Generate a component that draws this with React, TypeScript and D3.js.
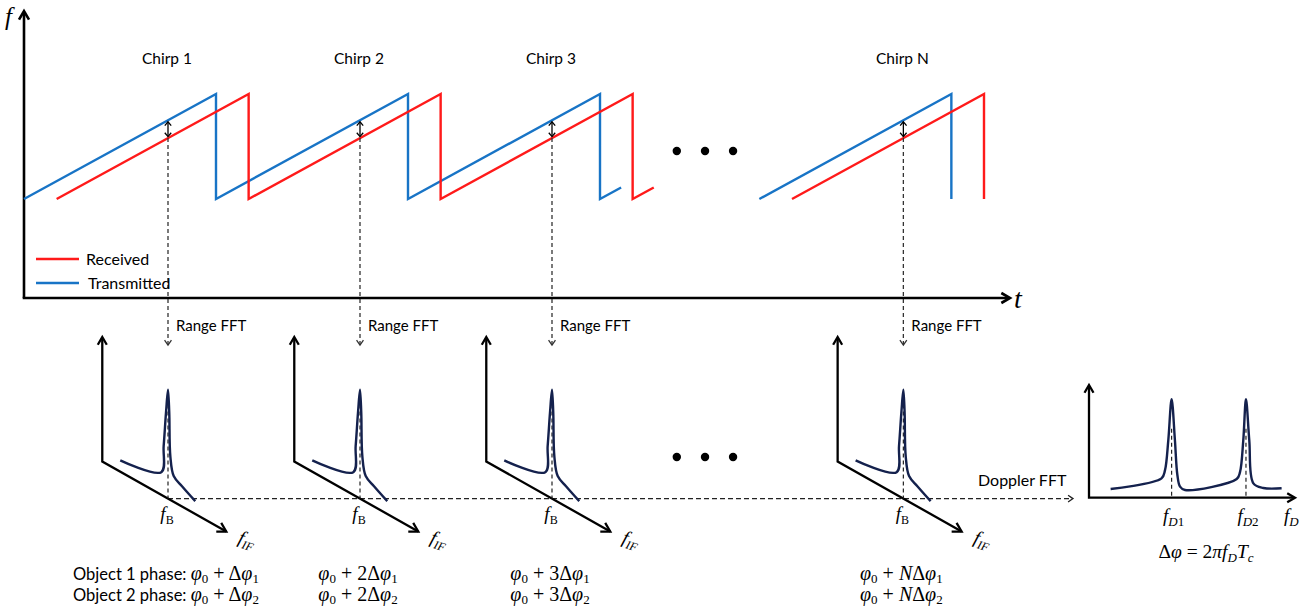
import React from "react";
import * as d3 from "d3";

// ---------- data ----------
const chirpLabels = ["Chirp 1", "Chirp 2", "Chirp 3", "Chirp N"];
const chirpStarts = [0, 1, 2, 3.83]; // in chirp durations
const phaseMultipliers = ["", "2", "3", "N"];
const echoDelay = 0.17; // received lag (chirp durations)
const beatSampleOffset = 0.75; // where beat frequency is measured within chirp
// sawtooth runs: start time, number of full chirps, trailing partial ramp
const sweepRunStarts = [0, 3.83];
const sweepRunCounts = [3, 1];
const sweepRunTails = [0.11, 0];
const ellipsisT = [3.4, 3.547, 3.693];
const ellipsisF = 0.457;

// range FFT spectrum (IF frequency along axis 0..1, magnitude 0..1)
const rangeIF = [0.145, 0.476, 0.495, 0.514, 0.53, 0.54, 0.549, 0.576, 0.643, 0.75];
const rangeMag = [0.103, 0.208, 0.459, 0.78, 1.0, 0.8, 0.4, 0.236, 0.186, 0.118];
const beatFreq = 0.53;

// doppler FFT spectrum
const dopplerFreq = [1.05, 3.52, 3.69, 3.85, 4.01, 4.17, 4.29, 4.42, 4.66, 7.17, 7.33, 7.49, 7.62, 7.78, 7.98, 8.46, 9.35];
const dopplerMag = [0.088, 0.197, 0.28, 0.586, 1.0, 0.586, 0.231, 0.112, 0.078, 0.19, 0.26, 0.586, 1.0, 0.586, 0.146, 0.099, 0.096];
const dopplerPeaks = [4.01, 7.62];
const dopplerPeakLabels = ["D1", "D2"];

// ---------- styling ----------
const SANS = "Lato, 'Open Sans', sans-serif";
const SERIF = "'Liberation Serif', 'DejaVu Serif', serif";
const RED = "#ff1a1a";
const BLUE = "#1874c6";
const NAVY = "#14214d";

function chevron(tipX: number, tipY: number, angleDeg: number, len = 9, spread = 28) {
  const a = (angleDeg * Math.PI) / 180;
  const s = (spread * Math.PI) / 180;
  const p1 = [tipX - len * Math.cos(a - s), tipY - len * Math.sin(a - s)];
  const p2 = [tipX - len * Math.cos(a + s), tipY - len * Math.sin(a + s)];
  return `M${p1[0]},${p1[1]}L${tipX},${tipY}L${p2[0]},${p2[1]}`;
}

export default function App() {
  const tScale = d3.scaleLinear().domain([0, 1]).range([24, 216]);
  const fScale = d3.scaleLinear().domain([0, 1]).range([199, 94]);
  const line = d3.line<[number, number]>().x((d) => tScale(d[0])).y((d) => fScale(d[1]));

  const buildRuns = (shift: number) =>
    sweepRunStarts.map((s0, i) => {
      const pts: [number, number][] = [];
      const s = s0 + shift;
      for (let k = 0; k < sweepRunCounts[i]; k++) {
        pts.push([s + k, 0], [s + k + 1, 1], [s + k + 1, 0]);
      }
      if (sweepRunTails[i] > 0) pts.push([s + sweepRunCounts[i] + sweepRunTails[i], sweepRunTails[i]]);
      return pts;
    });
  const txRuns = buildRuns(0);
  const rxRuns = buildRuns(echoDelay);

  const axisY = 298;
  const axisX = 24;

  const arrowXs = chirpStarts.map((s) => tScale(s + beatSampleOffset));
  const yTx = fScale(beatSampleOffset);
  const yRx = fScale(beatSampleOffset - echoDelay);

  // bottom panel geometry
  const panelOriginY = 461.5;
  const diagDX = 124;
  const diagDY = 70;
  const magPx = 109;
  const fBy = panelOriginY + beatFreq * diagDY;

  const panelLine = (ax: number) =>
    d3
      .line<number>()
      .x((_, i) => ax + rangeIF[i] * diagDX)
      .y((_, i) => panelOriginY + rangeIF[i] * diagDY - rangeMag[i] * magPx)
      .curve(d3.curveCatmullRom.alpha(0.5));

  // doppler
  const dX = d3.scaleLinear().domain([0, 10]).range([1089, 1295]);
  const dY = d3.scaleLinear().domain([0, 1]).range([497.7, 399.3]);
  const dLine = d3
    .line<number>()
    .x((_, i) => dX(dopplerFreq[i]))
    .y((_, i) => dY(dopplerMag[i]))
    .curve(d3.curveCatmullRom.alpha(0.5));

  const MATH = 20;
  const SUB = 13;

  const phaseExpr = (m: string, obj: string) => (
    <>
      <tspan fontFamily={SERIF} fontSize={MATH} fontStyle="italic">φ</tspan>
      <tspan fontFamily={SERIF} dy={3} fontSize={SUB}>0</tspan>
      <tspan fontFamily={SERIF} fontSize={MATH} dy={-3}>{" + "}</tspan>
      <tspan fontFamily={SERIF} fontSize={MATH} fontStyle={m === "N" ? "italic" : "normal"}>{m}</tspan>
      <tspan fontFamily={SERIF} fontSize={MATH}>Δ</tspan>
      <tspan fontFamily={SERIF} fontSize={MATH} fontStyle="italic">φ</tspan>
      <tspan fontFamily={SERIF} dy={3} fontSize={SUB}>{obj}</tspan>
    </>
  );

  return (
    <svg
      width={1303}
      height={610}
      style={{ position: "absolute", left: 0, top: 0, background: "#fff" }}
    >
      {/* top axes */}
      <g stroke="#000" strokeWidth={2.6} fill="none">
        <path d={`M${axisX},${axisY}L${axisX},12`} />
        <path d={chevron(axisX, 11, -90, 10, 30)} />
        <path d={`M${axisX - 1.3},${axisY}L1009,${axisY}`} />
        <path d={chevron(1010, axisY, 0, 10, 30)} />
      </g>
      <text x={5} y={25} fontFamily={SERIF} fontStyle="italic" fontSize={25}>f</text>
      <text x={1014} y={308} fontFamily={SERIF} fontStyle="italic" fontSize={28}>t</text>

      {/* chirps */}
      {txRuns.map((r, i) => (
        <path key={"tx" + i} d={line(r) || ""} fill="none" stroke={BLUE} strokeWidth={2.4} />
      ))}
      {rxRuns.map((r, i) => (
        <path key={"rx" + i} d={line(r) || ""} fill="none" stroke={RED} strokeWidth={2.4} />
      ))}

      {/* chirp labels */}
      {chirpLabels.map((c, i) => (
        <text key={c} x={arrowXs[i] - 1} y={64} textAnchor="middle" fontFamily={SANS} fontSize={15.5}>
          {c}
        </text>
      ))}

      {/* ellipsis top & bottom */}
      {ellipsisT.map((t, i) => (
        <g key={"el" + i}>
          <circle cx={tScale(t)} cy={fScale(ellipsisF)} r={4.2} fill="#000" />
          <circle cx={tScale(t)} cy={457} r={4.2} fill="#000" />
        </g>
      ))}

      {/* beat arrows and Range FFT */}
      {arrowXs.map((x, i) => (
        <g key={"ba" + i}>
          <path d={`M${x},${yTx + 1.5}L${x},${yRx - 1.5}`} stroke="#000" strokeWidth={1.3} />
          <path d={chevron(x, yTx + 1.5, -90, 5, 40)} stroke="#000" strokeWidth={1.3} fill="none" />
          <path d={chevron(x, yRx - 1.5, 90, 5, 40)} stroke="#000" strokeWidth={1.3} fill="none" />
          <path d={`M${x},${yRx}L${x},344`} stroke="#333" strokeWidth={1.3} strokeDasharray="4,3" />
          <path d={chevron(x, 345, 90, 6, 35)} stroke="#333" strokeWidth={1.3} fill="none" />
          <text x={x + 8} y={331} fontFamily={SANS} fontSize={15}>Range FFT</text>
        </g>
      ))}

      {/* legend */}
      <line x1={36} x2={79} y1={259} y2={259} stroke={RED} strokeWidth={2.4} />
      <text x={86} y={265} fontFamily={SANS} fontSize={16}>Received</text>
      <line x1={36} x2={79} y1={283} y2={283} stroke={BLUE} strokeWidth={2.4} />
      <text x={88} y={289} fontFamily={SANS} fontSize={16}>Transmitted</text>

      {/* doppler dashed arrow */}
      <path d={`M${arrowXs[0]},${fBy}L1071,${fBy}`} stroke="#222" strokeWidth={1.3} strokeDasharray="5,3" />
      <path d={chevron(1073, fBy, 0, 6, 35)} stroke="#222" strokeWidth={1.3} fill="none" />
      <text x={978} y={486} fontFamily={SANS} fontSize={16}>Doppler FFT</text>

      {/* range FFT panels */}
      {arrowXs.map((x, i) => {
        const ax = x - beatFreq * diagDX;
        const ex = ax + diagDX;
        const ey = panelOriginY + diagDY;
        const ang = (Math.atan2(diagDY, diagDX) * 180) / Math.PI;
        return (
          <g key={"panel" + i}>
            <path
              d={`M${ax},338L${ax},${panelOriginY}L${ex},${ey}`}
              stroke="#000"
              strokeWidth={2.3}
              fill="none"
            />
            <path d={chevron(ax, 337, -90, 9, 30)} stroke="#000" strokeWidth={2.3} fill="none" />
            <path d={chevron(ex, ey, ang, 10, 30)} stroke="#000" strokeWidth={2.3} fill="none" />
            <path d={`M${x},${fBy - magPx + 8}L${x},${fBy}`} stroke="#222" strokeWidth={1.2} strokeDasharray="4,3" />
            <path d={panelLine(ax)(rangeIF) || ""} fill="none" stroke={NAVY} strokeWidth={2.4} />
            <text x={x - 1} y={fBy + 21} textAnchor="middle" fontFamily={SERIF} fontSize={19}>
              <tspan fontStyle="italic">f</tspan>
              <tspan dy={4} fontSize={12}>B</tspan>
            </text>
            <text
              transform={`translate(${ex + 11},${ey + 11}) rotate(18)`}
              fontFamily={SERIF}
              fontSize={19}
            >
              <tspan fontStyle="italic">f</tspan>
              <tspan dy={4} fontSize={12} fontStyle="italic">IF</tspan>
            </text>
            <text x={x - 2} y={580} textAnchor="middle" fontFamily={SANS} fontSize={16.5}>
              {i === 0 ? <tspan>Object 1 phase: </tspan> : null}
              {phaseExpr(phaseMultipliers[i], "1")}
            </text>
            <text x={x - 2} y={601} textAnchor="middle" fontFamily={SANS} fontSize={16.5}>
              {i === 0 ? <tspan>Object 2 phase: </tspan> : null}
              {phaseExpr(phaseMultipliers[i], "2")}
            </text>
          </g>
        );
      })}

      {/* doppler panel */}
      <g stroke="#000" strokeWidth={2.3} fill="none">
        <path d={`M${dX(0)},386L${dX(0)},${dY(0)}L1294,${dY(0)}`} />
        <path d={chevron(dX(0), 385, -90, 9, 30)} />
        <path d={chevron(1295, dY(0), 0, 9, 30)} />
      </g>
      {dopplerPeaks.map((p, i) => (
        <g key={"dp" + i}>
          <path d={`M${dX(p)},${dY(0.7)}L${dX(p)},${dY(0)}`} stroke="#222" strokeWidth={1.2} strokeDasharray="4,3" />
          <text x={dX(p) + 2} y={522} textAnchor="middle" fontFamily={SERIF} fontSize={19}>
            <tspan fontStyle="italic">f</tspan>
            <tspan dy={4} fontSize={13} fontStyle="italic">{dopplerPeakLabels[i][0]}</tspan>
            <tspan fontSize={13}>{dopplerPeakLabels[i].slice(1)}</tspan>
          </text>
        </g>
      ))}
      <path d={dLine(dopplerFreq) || ""} fill="none" stroke={NAVY} strokeWidth={2.4} />
      <text x={1284} y={522} fontFamily={SERIF} fontSize={19}>
        <tspan fontStyle="italic">f</tspan>
        <tspan dy={4} fontSize={13} fontStyle="italic">D</tspan>
      </text>
      <text x={1206} y={558} textAnchor="middle" fontFamily={SERIF} fontSize={19.5}>
        <tspan>Δ</tspan>
        <tspan fontStyle="italic">φ</tspan>
        <tspan>{" = 2"}</tspan>
        <tspan fontStyle="italic">πf</tspan>
        <tspan dy={4} fontSize={13} fontStyle="italic">D</tspan>
        <tspan dy={-4} fontStyle="italic">T</tspan>
        <tspan dy={4} fontSize={13} fontStyle="italic">c</tspan>
      </text>
    </svg>
  );
}
